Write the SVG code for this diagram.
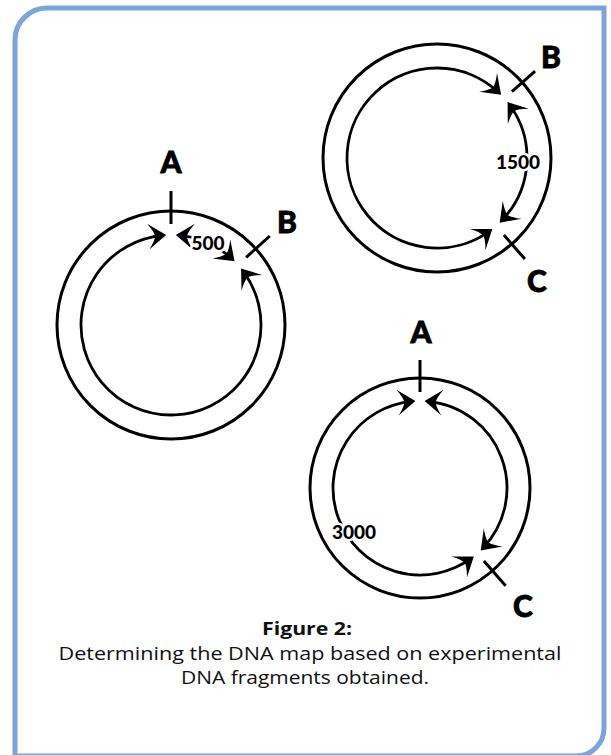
<svg xmlns="http://www.w3.org/2000/svg" width="611" height="755" viewBox="0 0 611 755">
<style>
.ring{fill:none;stroke:#000;stroke-width:3}
.arc{fill:none;stroke:#000;stroke-width:2.8;marker-start:url(#ah);marker-end:url(#ah)}
.tick{stroke:#000;stroke-width:3;fill:none}
.lbl{font-family:"Lato","Liberation Sans",sans-serif;font-weight:900;font-size:30px;fill:#000;stroke:#000;stroke-width:0.8;text-anchor:middle}
.num{font-family:"Lato","Liberation Sans",sans-serif;font-weight:900;font-size:19px;fill:#000;text-anchor:middle;stroke:#fff;stroke-width:5;paint-order:stroke;stroke-linejoin:round}
.cap{font-family:"Open Sans","Liberation Sans",sans-serif;font-size:18px;fill:#111;text-anchor:middle}
</style>
<defs>
<marker id="ah" markerUnits="userSpaceOnUse" orient="auto-start-reverse" refX="-3" refY="0" markerWidth="20" markerHeight="24" overflow="visible">
<path d="M0,0 L-18,-13 Q-12,-5 -11,0 Q-12,5 -18,13 Z" fill="#000"/>
</marker>
</defs>
<path id="frame" d="M15,760 V40 A32,32 0 0 1 47,8 H604 V727 A28,28 0 0 1 576,756 H15" fill="none" stroke="#7BA4DA" stroke-width="5"/>

<g id="map1">
<circle class="ring" cx="171" cy="325" r="114"/>
<line class="tick" x1="171" y1="224" x2="171" y2="191"/>
<line class="tick" x1="246.1" y1="257.4" x2="269.8" y2="236"/>
<text class="lbl" x="171" y="173">A</text>
<text class="lbl" x="287" y="233">B</text>
</g>
<g id="map2">
<circle class="ring" cx="437" cy="158" r="114"/>
<line class="tick" x1="511.9" y1="91.7" x2="535.1" y2="71.2"/>
<line class="tick" x1="503.9" y1="235" x2="524.9" y2="259.1"/>
<text class="lbl" x="551" y="68">B</text>
<text class="lbl" x="537" y="292">C</text>
</g>
<g id="map3">
<circle class="ring" cx="420" cy="488" r="110"/>
<line class="tick" x1="420" y1="392" x2="420" y2="360"/>
<line class="tick" x1="483.9" y1="561" x2="505.6" y2="585.8"/>
<text class="lbl" x="421" y="343">A</text>
<text class="lbl" x="523" y="617">C</text>
</g>

<g id="connectors">
<path class="arc" d="M178.84,235.34 A90,90 0 0 1 232.38,259.18"/>
<path class="arc" d="M242.88,270.84 A90,90 0 1 1 163.16,235.34"/>
<path class="arc" d="M509.35,104.47 A90,90 0 0 1 501.74,220.52"/>
<path class="arc" d="M489.9,230.81 A90,90 0 1 1 498.95,92.72"/>
<path class="arc" d="M427.58,401.33 A87,87 0 0 1 482.79,548.22"/>
<path class="arc" d="M471.38,558.21 A87,87 0 1 1 412.42,401.33"/>
<text class="num" x="208" y="250">500</text>
<text class="num" x="518" y="169">1500</text>
<text class="num" x="354" y="539">3000</text>
</g>

<g id="caption">
<text class="cap" x="307" y="635" font-weight="700" textLength="90" lengthAdjust="spacingAndGlyphs">Figure 2:</text>
<text class="cap" x="310" y="659.5" textLength="503" lengthAdjust="spacingAndGlyphs">Determining the DNA map based on experimental</text>
<text class="cap" x="305" y="684" textLength="248" lengthAdjust="spacingAndGlyphs">DNA fragments obtained.</text>
</g>
</svg>
